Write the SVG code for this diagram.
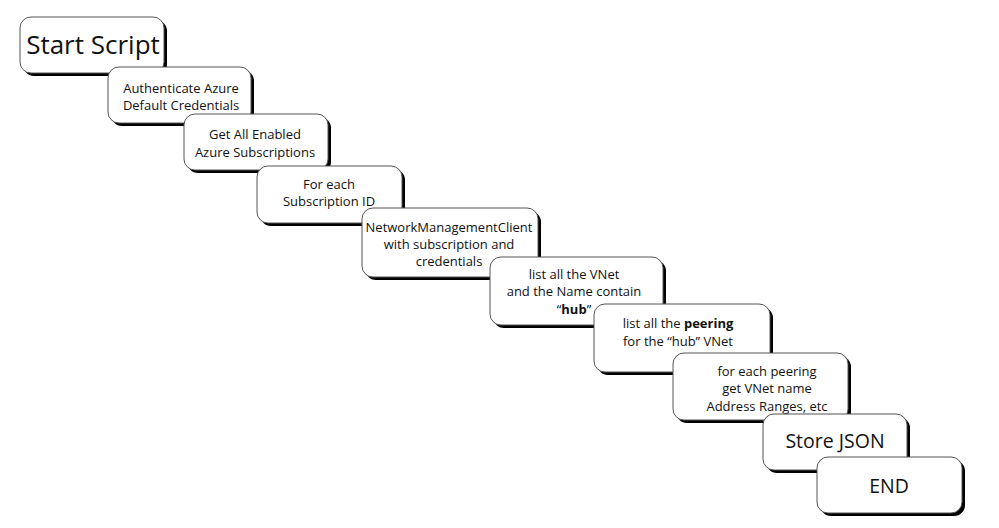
<svg xmlns="http://www.w3.org/2000/svg" width="999" height="528" viewBox="0 0 999 528">
<style>
.sh{fill:#000}
.bx{fill:#fff;stroke:#555;stroke-width:1}
text{font-family:"Open Sans","Noto Sans",sans-serif;fill:#111;text-anchor:middle;font-size:13px}
.big{font-size:26px}
.mid{font-size:19.5px}
.b{font-weight:bold}
</style>
<rect width="999" height="528" fill="#fff"/>
<g id="connectors"></g>
<g id="n1"><rect class="sh" x="23" y="20" width="144" height="56" rx="11"/><rect class="bx" x="20" y="17" width="144" height="56" rx="11"/><text class="big" x="93" y="54">Start Script</text></g>
<g id="n2"><rect class="sh" x="111" y="70" width="143" height="56" rx="11"/><rect class="bx" x="108" y="67" width="143" height="56" rx="11"/><text x="181" y="93">Authenticate Azure</text><text x="181" y="110">Default Credentials</text></g>
<g id="n3"><rect class="sh" x="187" y="117" width="144" height="56" rx="11"/><rect class="bx" x="184" y="114" width="144" height="56" rx="11"/><text x="255" y="139">Get All Enabled</text><text x="255" y="157">Azure Subscriptions</text></g>
<g id="n4"><rect class="sh" x="260" y="169" width="145" height="57" rx="11"/><rect class="bx" x="257" y="166" width="145" height="57" rx="11"/><text x="329" y="189">For each</text><text x="329" y="206">Subscription ID</text></g>
<g id="n5"><rect class="sh" x="365" y="211" width="176" height="69" rx="11"/><rect class="bx" x="362" y="208" width="176" height="69" rx="11"/><text x="449" y="232">NetworkManagementClient</text><text x="449" y="249">with subscription and</text><text x="449" y="266">credentials</text></g>
<g id="n6"><rect class="sh" x="493" y="260" width="173" height="68" rx="11"/><rect class="bx" x="490" y="257" width="173" height="68" rx="11"/><text x="574" y="279">list all the VNet</text><text x="574" y="296">and the Name contain</text><text x="574" y="314">“<tspan class="b">hub</tspan>”</text></g>
<g id="n7"><rect class="sh" x="597" y="307" width="176" height="68" rx="11"/><rect class="bx" x="594" y="304" width="176" height="68" rx="11"/><text x="678" y="328">list all the <tspan class="b">peering</tspan></text><text x="678" y="346">for the “hub” VNet</text></g>
<g id="n8"><rect class="sh" x="676" y="356" width="175" height="67" rx="11"/><rect class="bx" x="673" y="353" width="175" height="67" rx="11"/><text x="767" y="376">for each peering</text><text x="767" y="393">get VNet name</text><text x="767" y="411">Address Ranges, etc</text></g>
<g id="n9"><rect class="sh" x="766" y="417" width="144" height="56" rx="11"/><rect class="bx" x="763" y="414" width="144" height="56" rx="11"/><text class="mid" x="835" y="448">Store JSON</text></g>
<g id="n10"><rect class="sh" x="820" y="460" width="145" height="56" rx="11"/><rect class="bx" x="817" y="457" width="145" height="56" rx="11"/><text class="mid" x="889" y="493">END</text></g>
</svg>
